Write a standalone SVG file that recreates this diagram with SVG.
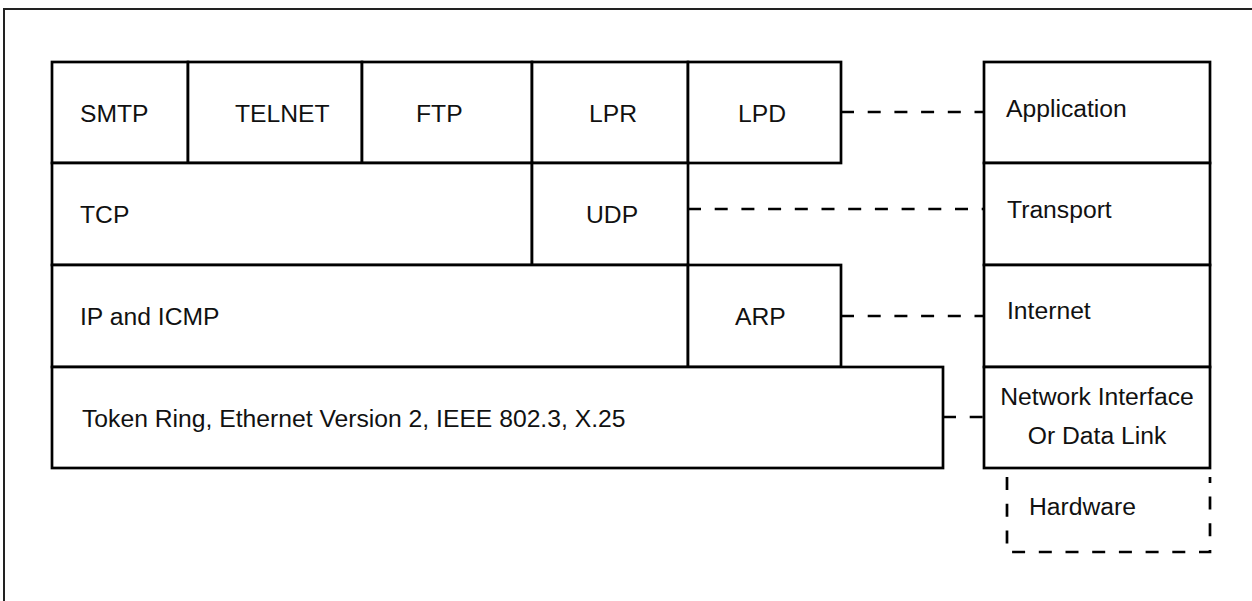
<svg xmlns="http://www.w3.org/2000/svg" width="1252" height="601" viewBox="0 0 1252 601">
  <style>
    .box { fill: #ffffff; stroke: #000000; stroke-width: 2.7; }
    .lbl { font-family: "Liberation Sans", Arial, sans-serif; font-size: 24.7px; fill: #111111; }
    .mid { text-anchor: middle; }
    .dash { fill: none; stroke: #000000; stroke-width: 2.7; stroke-dasharray: 13 13.7; }
  </style>

  <rect width="1252" height="601" fill="#ffffff"/>
  <!-- outer frame, open to the right and bottom -->
  <rect x="4" y="9" width="1270" height="620" fill="none" stroke="#222222" stroke-width="2"/>

  <!-- protocol stack: application row -->
  <g id="smtp"><rect class="box" x="52" y="62" width="136" height="101"/><text class="lbl" x="80" y="122">SMTP</text></g>
  <g id="telnet"><rect class="box" x="188" y="62" width="174" height="101"/><text class="lbl" x="235" y="122">TELNET</text></g>
  <g id="ftp"><rect class="box" x="362" y="62" width="170" height="101"/><text class="lbl" x="416" y="122">FTP</text></g>
  <g id="lpr"><rect class="box" x="532" y="62" width="156" height="101"/><text class="lbl" x="589" y="122">LPR</text></g>
  <g id="lpd"><rect class="box" x="688" y="62" width="153" height="101"/><text class="lbl" x="738" y="122">LPD</text></g>

  <!-- transport row -->
  <g id="tcp"><rect class="box" x="52" y="163" width="480" height="102"/><text class="lbl" x="80" y="223">TCP</text></g>
  <g id="udp"><rect class="box" x="532" y="163" width="156" height="102"/><text class="lbl" x="586" y="223">UDP</text></g>

  <!-- internet row -->
  <g id="ip-icmp"><rect class="box" x="52" y="265" width="636" height="102"/><text class="lbl" x="80" y="325">IP and ICMP</text></g>
  <g id="arp"><rect class="box" x="688" y="265" width="153" height="102"/><text class="lbl" x="735" y="325">ARP</text></g>

  <!-- link row -->
  <g id="link-protocols"><rect class="box" x="52" y="367" width="891" height="101"/><text class="lbl" x="82" y="427">Token Ring, Ethernet Version 2, IEEE 802.3, X.25</text></g>

  <!-- layer column -->
  <g id="layer-application"><rect class="box" x="984" y="62" width="226" height="101"/><text class="lbl" x="1006" y="117">Application</text></g>
  <g id="layer-transport"><rect class="box" x="984" y="163" width="226" height="102"/><text class="lbl" x="1007" y="218">Transport</text></g>
  <g id="layer-internet"><rect class="box" x="984" y="265" width="226" height="102"/><text class="lbl" x="1007" y="319">Internet</text></g>
  <g id="layer-netif"><rect class="box" x="984" y="367" width="226" height="101"/>
    <text class="lbl mid" x="1097" y="405">Network Interface</text>
    <text class="lbl mid" x="1097" y="444">Or Data Link</text></g>
  <g id="layer-hardware">
    <path class="dash" d="M1007,477 V552 H1210 V477"/>
    <text class="lbl" x="1029" y="515">Hardware</text></g>

  <!-- dashed links from the stack to the layers -->
  <g id="connectors">
    <line class="dash" x1="841" y1="112" x2="984" y2="112"/>
    <line class="dash" x1="688" y1="209" x2="984" y2="209"/>
    <line class="dash" x1="841" y1="316" x2="984" y2="316"/>
    <line class="dash" x1="943" y1="417" x2="984" y2="417"/>
  </g>
</svg>
